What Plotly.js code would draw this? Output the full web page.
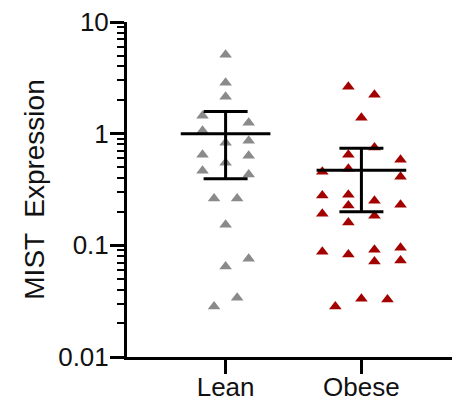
<!DOCTYPE html>
<html>
<head>
<meta charset="utf-8">
<script src="https://cdn.plot.ly/plotly-3.0.1.min.js"></script>
<style>html,body{margin:0;padding:0;background:#fff;}#chart{width:452px;height:410px;}</style>
</head>
<body>
<div id="chart"></div>
<script>
// Categories
const categories = ['Lean', 'Obese'];

// Individual values
const leanValues = [5.1, 2.86, 2.14, 1.45, 1.25, 1.06, 0.866, 0.831, 0.649, 0.635, 0.55, 0.466, 0.43, 0.262, 0.262, 0.153, 0.076, 0.0645, 0.034, 0.0283];
const obeseValues = [2.63, 2.23, 1.39, 0.75, 0.649, 0.585, 0.457, 0.486, 0.412, 0.279, 0.284, 0.227, 0.251, 0.192, 0.231, 0.184, 0.160, 0.0878, 0.0826, 0.0915, 0.0953, 0.0715, 0.073, 0.0283, 0.0333, 0.0327];

// Dot-plot column slot of each point (scatter-dot arrangement)
const leanSlots = [0, 0, 0, -2, 2, -2, 2, 0, -2, 2, 0, -2, 2, -1, 1, 0, 2, 0, 1, -1];
const obeseSlots = [-1, 1, 0, 1, -1, 3, -3, -1, 3, -3, -1, -1, 1, -3, 3, 1, -1, -3, -1, 1, 3, 1, 3, -2, 0, 2];

// Summary (mean with 95% CI)
const means = [1.0, 0.47];
const upper = [1.58, 0.74];
const lower = [0.395, 0.20];

// Tick labels
const yTickVals = [0.01, 0.1, 1, 10];
const yTickText = ['0.01', '0.1', '1', '10'];

const leanStep = 0.085, obeseStep = 0.096;
const minorVals = [];
[0.01, 0.1, 1].forEach(d => { for (let k = 2; k <= 9; k++) minorVals.push(d * k); });

const font = {family: 'Liberation Sans, Arial, sans-serif', size: 26, color: '#111'};
const titleFont = {family: 'Liberation Sans, Arial, sans-serif', size: 28, color: '#111'};

const traces = [
  {
    type: 'scatter', mode: 'markers', name: categories[0],
    x: leanSlots.map(s => 0 + s * leanStep), y: leanValues,
    marker: {symbol: 'triangle-up', size: 11, color: '#8a8a8a'},
    hoverinfo: 'y'
  },
  {
    type: 'scatter', mode: 'markers', name: categories[1],
    x: obeseSlots.map(s => 1 + s * obeseStep), y: obeseValues,
    marker: {symbol: 'triangle-up', size: 11, color: '#a30000'},
    hoverinfo: 'y'
  },
  {
    type: 'scatter', mode: 'markers', name: 'mean',
    x: [0, 1], y: means,
    marker: {size: 1, color: 'rgba(0,0,0,0)'},
    error_y: {type: 'data', symmetric: false,
      array: upper.map((u, i) => u - means[i]),
      arrayminus: lower.map((l, i) => means[i] - l),
      width: 22, thickness: 3, color: '#000'},
    error_x: {type: 'data', array: [0.33, 0.33], width: 0, thickness: 3, color: '#000'},
    hoverinfo: 'y'
  }
];

const layout = {
  width: 452, height: 410,
  margin: {l: 127, r: 0, t: 22, b: 53},
  showlegend: false,
  paper_bgcolor: '#fff', plot_bgcolor: '#fff',
  font: font,
  xaxis: {
    range: [-0.726, 1.667],
    tickvals: [0, 1], ticktext: categories,
    showgrid: false, zeroline: false,
    showline: true, linecolor: '#000', linewidth: 3,
    ticks: 'outside', ticklen: 14, tickwidth: 3, tickcolor: '#000',
    ticklabelstandoff: -9,
    tickfont: font
  },
  yaxis: {
    type: 'log', range: [-2, 1],
    tickvals: yTickVals, ticktext: yTickText,
    showgrid: false, zeroline: false,
    showline: true, linecolor: '#000', linewidth: 3,
    ticks: 'outside', ticklen: 14, tickwidth: 3, tickcolor: '#000',
    ticklabelstandoff: -4,
    tickfont: font,
    minor: {tickvals: minorVals, ticks: 'outside', ticklen: 7, tickwidth: 2, tickcolor: '#000', showgrid: false},
    title: {text: 'MIST  Expression', font: titleFont, standoff: 6}
  }
};

Plotly.newPlot('chart', traces, layout, {displayModeBar: false, staticPlot: true});
</script>
</body>
</html>
